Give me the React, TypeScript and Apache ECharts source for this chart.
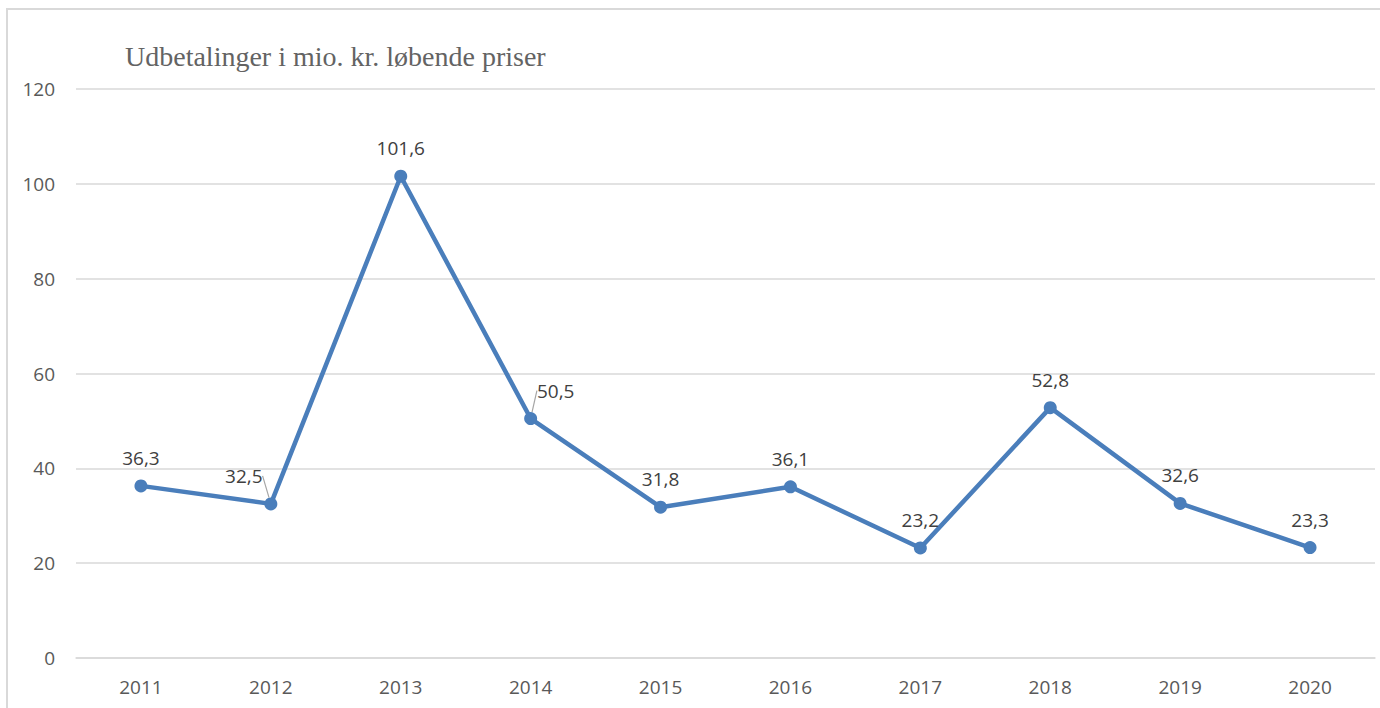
import React, { useEffect, useRef } from "react";
import * as echarts from "echarts";

const years = ["2011", "2012", "2013", "2014", "2015", "2016", "2017", "2018", "2019", "2020"];
const payouts = [36.3, 32.5, 101.6, 50.5, 31.8, 36.1, 23.2, 52.8, 32.6, 23.3];
const yTicks = { min: 0, max: 120, interval: 20 };
const titleText = "Udbetalinger i mio. kr. løbende priser";
// labels moved aside with a leader line: index -> horizontal shift
const movedLabels: Record<number, number> = { 1: -27, 3: 25 };

export default function App() {
  const ref = useRef<HTMLDivElement>(null);
  useEffect(() => {
    if (!ref.current) return;
    const chart = echarts.init(ref.current, null, { renderer: "svg" });
    const seriesData = payouts.map((v, i) => ({
      value: v,
      labelLine: { show: movedLabels[i] !== undefined },
    }));
    chart.setOption({
      animation: false,
      backgroundColor: "transparent",
      title: {
        text: titleText,
        left: 120,
        top: 37,
        textStyle: {
          fontFamily: "Liberation Serif",
          fontSize: 28,
          fontWeight: "normal",
          color: "#636363",
        },
      },
      grid: { left: 76, right: 5, top: 89, bottom: 50 },
      xAxis: {
        type: "category",
        data: years,
        boundaryGap: true,
        axisLine: { show: true, lineStyle: { color: "#d9d9d9", width: 1.5 } },
        axisTick: { show: false },
        axisLabel: {
          color: "#595959",
          fontFamily: "Open Sans",
          fontSize: 19,
          margin: 19,
        },
      },
      yAxis: {
        type: "value",
        min: yTicks.min,
        max: yTicks.max,
        interval: yTicks.interval,
        axisLine: { show: false },
        axisTick: { show: false },
        splitLine: { lineStyle: { color: "#d9d9d9", width: 1.5 } },
        axisLabel: {
          color: "#595959",
          fontFamily: "Open Sans",
          fontSize: 19,
          margin: 21,
        },
      },
      series: [
        {
          type: "line",
          data: seriesData,
          symbol: "circle",
          symbolSize: 13,
          lineStyle: { color: "#4a7ebb", width: 4.5 },
          itemStyle: { color: "#4a7ebb" },
          label: {
            show: true,
            position: "top",
            distance: 12,
            color: "#404040",
            fontFamily: "Open Sans",
            fontSize: 19,
            formatter: (p: any) => String(p.value).replace(".", ","),
          },
          labelLayout: (p: any) => {
            const dx = movedLabels[p.dataIndex];
            return dx !== undefined ? { dx } : {};
          },
          labelLine: {
            show: false,
            lineStyle: { color: "#a6a6a6", width: 1.2 },
          },
        },
      ],
    });
    return () => chart.dispose();
  }, []);
  return (
    <div style={{ position: "absolute", left: 0, top: 0, width: 1380, height: 708, overflow: "hidden" }}>
      <div
        style={{
          position: "absolute",
          left: 6,
          top: 8,
          width: 1400,
          height: 760,
          border: "2px solid #d9d9d9",
          boxSizing: "border-box",
        }}
      />
      <div ref={ref} style={{ position: "absolute", left: 0, top: 0, width: 1380, height: 708 }} />
    </div>
  );
}
